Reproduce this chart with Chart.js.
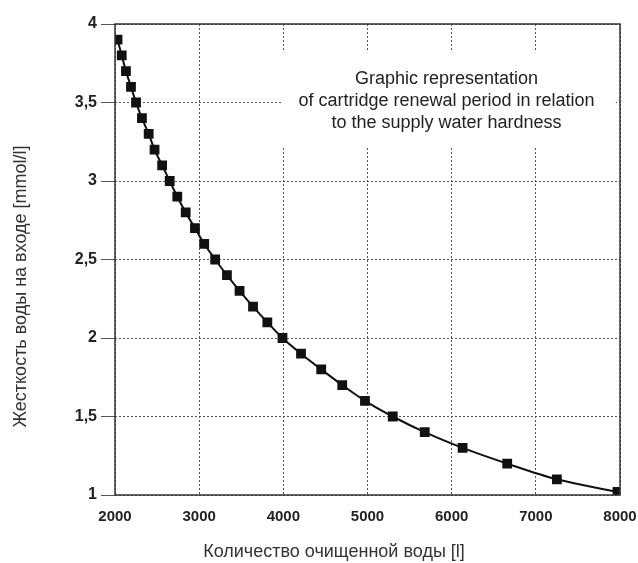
<!DOCTYPE html>
<html lang="ru">
<head>
  <meta charset="UTF-8">
  <title>Cartridge renewal period</title>
  <script src="https://cdn.jsdelivr.net/npm/chart.js"></script>
  <style>
    body { margin: 0; background: #fff; }
    #wrap { width: 638px; height: 563px; }
  </style>
</head>
<body>
  <div id="wrap"><canvas id="hardChart" width="638" height="563"></canvas></div>
  <script>
    // purified water volume [l]
    const volume = [2030, 2080, 2130, 2190, 2250, 2320, 2400, 2470, 2560, 2650,
                    2740, 2840, 2950, 3060, 3190, 3330, 3480, 3640, 3810, 3990,
                    4210, 4450, 4700, 4970, 5300, 5680, 6130, 6660, 7250, 7970];
    // inlet water hardness [mmol/l]
    const hardness = [3.9, 3.8, 3.7, 3.6, 3.5, 3.4, 3.3, 3.2, 3.1, 3.0,
                      2.9, 2.8, 2.7, 2.6, 2.5, 2.4, 2.3, 2.2, 2.1, 2.0,
                      1.9, 1.8, 1.7, 1.6, 1.5, 1.4, 1.3, 1.2, 1.1, 1.02];
    const xTicks = [2000, 3000, 4000, 5000, 6000, 7000, 8000];
    const yTicks = [1, 1.5, 2, 2.5, 3, 3.5, 4];
    const xTitle = 'Количество очищенной воды [l]';
    const yTitle = 'Жесткость воды на входе [mmol/l]';
    const noteLines = ['Graphic representation',
                       'of cartridge renewal period in relation',
                       'to the supply water hardness'];

    const points = volume.map((v, i) => ({ x: v, y: hardness[i] }));
    const FONT = '"Liberation Sans", Arial, sans-serif';

    // white note box, frame round the plot and the two axis titles
    const notePlugin = {
      id: 'note',
      beforeDatasetsDraw(chart) {
        const { ctx, scales: { x, y } } = chart;
        const x0 = x.getPixelForValue(3975), x1 = x.getPixelForValue(7950);
        const y0 = y.getPixelForValue(3.82), y1 = y.getPixelForValue(3.22);
        ctx.save();
        ctx.fillStyle = '#fff';
        ctx.fillRect(x0, y0, x1 - x0, y1 - y0);
        ctx.fillStyle = '#222';
        ctx.font = '18px ' + FONT;
        ctx.textAlign = 'center';
        ctx.textBaseline = 'middle';
        const cx = (x0 + x1) / 2 - 2;
        const mid = (y0 + y1) / 2 + 2;
        noteLines.forEach((t, i) => ctx.fillText(t, cx, mid + (i - 1) * 22));
        ctx.restore();
      },
      afterDraw(chart) {
        const { ctx, chartArea: a } = chart;
        ctx.save();
        ctx.strokeStyle = '#333';
        ctx.lineWidth = 1.5;
        ctx.strokeRect(a.left, a.top, a.right - a.left, a.bottom - a.top);

        ctx.fillStyle = '#333';
        ctx.font = '18px ' + FONT;
        ctx.textAlign = 'center';
        ctx.textBaseline = 'middle';
        ctx.fillText(xTitle, chart.width / 2 + 15, a.bottom + 57);
        ctx.translate(21, (a.top + a.bottom) / 2 + 27);
        ctx.rotate(-Math.PI / 2);
        ctx.fillText(yTitle, 0, 0);
        ctx.restore();
      }
    };

    const gridColor = '#555';
    const ctx = document.getElementById('hardChart').getContext('2d');
    new Chart(ctx, {
      type: 'scatter',
      data: {
        datasets: [{
          data: points,
          showLine: true,
          borderColor: '#111',
          borderWidth: 2,
          backgroundColor: '#111',
          pointStyle: 'rect',
          pointRadius: 5.5,
          pointHoverRadius: 5.5,
          cubicInterpolationMode: 'monotone'
        }]
      },
      options: {
        responsive: false,
        animation: false,
        layout: { padding: { top: 24, right: 18, left: 0, bottom: 0 } },
        plugins: { legend: { display: false }, tooltip: { enabled: false } },
        scales: {
          x: {
            type: 'linear',
            min: 2000,
            max: 8000,
            afterBuildTicks: s => { s.ticks = xTicks.map(v => ({ value: v })); },
            afterFit: s => { s.height = 68; s.paddingLeft = 0; s.paddingRight = 0; },
            grid: { color: gridColor, lineWidth: 1, drawTicks: false },
            border: { display: false, dash: [2, 2] },
            ticks: {
              color: '#222',
              padding: 13,
              maxRotation: 0,
              callback: v => String(v),
              font: { family: FONT, size: 15, weight: 'bold' }
            }
          },
          y: {
            type: 'linear',
            min: 1,
            max: 4,
            afterBuildTicks: s => { s.ticks = yTicks.map(v => ({ value: v })); },
            afterFit: s => { s.width = 115; },
            grid: { color: gridColor, lineWidth: 1, tickLength: 14 },
            border: { display: false, dash: [2, 2] },
            ticks: {
              color: '#222',
              padding: 4,
              callback: v => String(v).replace('.', ','),
              font: { family: FONT, size: 16, weight: 'bold' }
            }
          }
        }
      },
      plugins: [notePlugin]
    });
  </script>
</body>
</html>
